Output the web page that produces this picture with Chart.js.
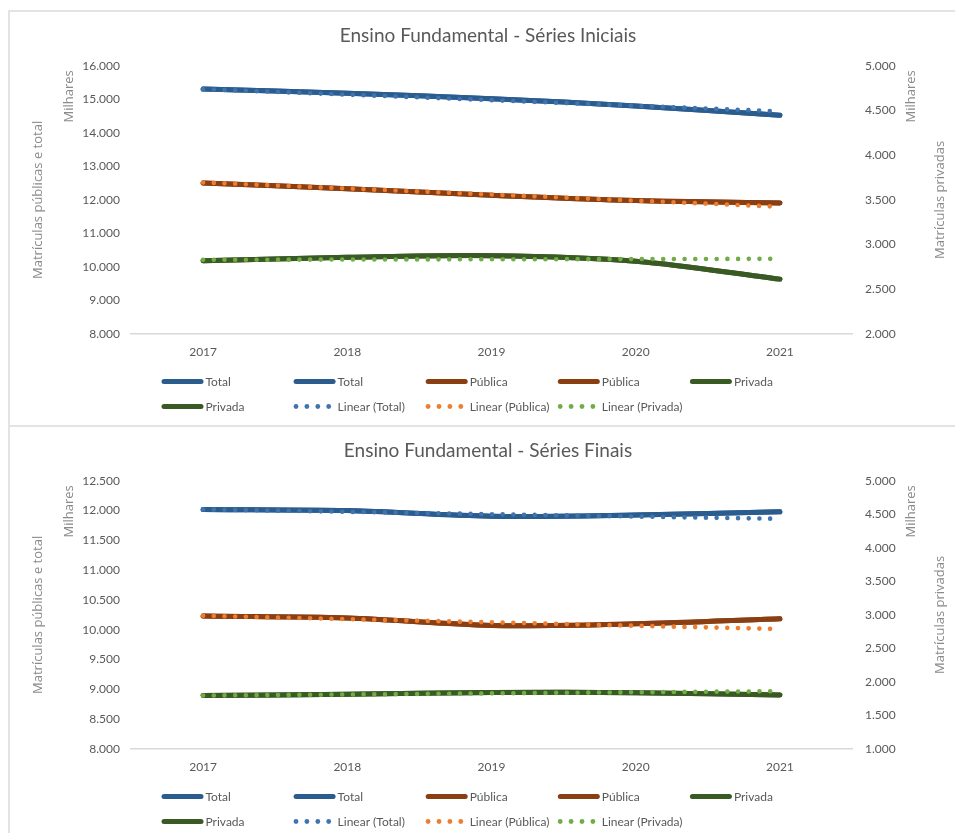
<!DOCTYPE html>
<html lang="pt-BR">
<head>
<meta charset="utf-8">
<title>Ensino Fundamental - Matrículas</title>
<script src="https://cdn.jsdelivr.net/npm/chart.js@4.4.1/dist/chart.umd.min.js"></script>
<style>
  html, body { margin: 0; padding: 0; background: #fff; overflow: hidden; width: 955px; height: 833px; }
  .quadro { position: absolute; left: 8px; width: 1000px; border-top: 2px solid #e3e3e3; border-left: 2px solid #e3e3e3; }
  #q1 { top: 10px; height: 413px; }
  #q2 { top: 425px; height: 406px; }
  canvas { position: absolute; left: 0; top: 0; }
</style>
</head>
<body>
<div class="quadro" id="q1"><canvas id="iniciais" width="956" height="413"></canvas></div>
<div class="quadro" id="q2"><canvas id="finais" width="956" height="406"></canvas></div>

<script>
// Matrículas em milhares
const anos = ['2017', '2018', '2019', '2020', '2021'];

// Séries Iniciais
const iniciaisTotal   = [15305, 15180, 15020, 14800, 14525];
const iniciaisPublica = [12506, 12330, 12140, 11980, 11910];
const iniciaisPrivada = [2819, 2858, 2876, 2815, 2614];
const iniciaisLinTotal   = [15305, 15140, 14975, 14808, 14640];
const iniciaisLinPublica = [12520, 12340, 12160, 11978, 11795];
const iniciaisLinPrivada = [2830, 2833, 2836, 2838, 2841];

// Séries Finais
const finaisTotal   = [12020, 12000, 11905, 11925, 11981];
const finaisPublica = [10230, 10197, 10074, 10100, 10186];
const finaisPrivada = [1797, 1815, 1842, 1840, 1807];
const finaisLinTotal   = [12020, 11980, 11940, 11900, 11862];
const finaisLinPublica = [10235, 10180, 10125, 10068, 10012];
const finaisLinPrivada = [1797, 1813, 1830, 1846, 1862];

const cores = {
  total: '#2b5c8e', publica: '#8a3f12', privada: '#3a5a24',
  linTotal: '#3f74b0', linPublica: '#ed7d31', linPrivada: '#70ad47'
};

function milhar(v) {
  return String(Math.round(v)).replace(/\B(?=(\d{3})+(?!\d))/g, '.');
}

function linha(label, data, cor, eixo) {
  return {
    label, data, yAxisID: eixo, borderColor: cor, backgroundColor: cor,
    borderWidth: 5, pointRadius: 0, pointHoverRadius: 0, tension: 0.33,
    borderCapStyle: 'round', borderJoinStyle: 'round', order: 2
  };
}

function tendencia(label, data, cor, eixo) {
  return {
    label, data, yAxisID: eixo, borderColor: cor, backgroundColor: cor,
    borderWidth: 4.6, pointRadius: 0, pointHoverRadius: 0, tension: 0,
    borderDash: [0, 10.7], borderCapStyle: 'round', order: 1
  };
}

// Rótulos rotacionados dos eixos e da unidade de exibição
const notasEixos = {
  id: 'notasEixos',
  afterDraw(chart, args, o) {
    const { ctx, chartArea: a } = chart;
    const meio = (a.top + a.bottom) / 2;
    const escreve = (txt, x, y, alinh) => {
      ctx.save();
      ctx.translate(x, y);
      ctx.rotate(-Math.PI / 2);
      ctx.textAlign = alinh;
      ctx.textBaseline = 'middle';
      ctx.fillText(txt, 0, 0);
      ctx.restore();
    };
    ctx.save();
    ctx.fillStyle = o.color;
    ctx.font = o.font;
    escreve(o.tituloEsq, o.xTituloEsq, meio, 'center');
    escreve(o.unidade, o.xUnidadeEsq, a.top + o.desvioUnidade, 'right');
    escreve(o.unidade, o.xUnidadeDir, a.top + o.desvioUnidade, 'right');
    escreve(o.tituloDir, o.xTituloDir, meio, 'center');
    ctx.restore();
  }
};

// Legenda em grade de colunas fixas
const legendaGrade = {
  id: 'legendaGrade',
  afterDraw(chart, args, o) {
    const { ctx, chartArea: a } = chart;
    ctx.save();
    ctx.font = o.font;
    ctx.textAlign = 'left';
    ctx.textBaseline = 'middle';
    chart.data.datasets.forEach((ds, i) => {
      const col = i % o.colunas, lin = Math.floor(i / o.colunas);
      const x = o.x + col * o.largura;
      const y = a.bottom + o.primeiraLinha + lin * o.entreLinhas;
      if (ds.borderDash && ds.borderDash.length) {
        ctx.fillStyle = ds.borderColor;
        for (let k = 0; k < 4; k++) {
          ctx.beginPath();
          ctx.arc(x + 2.4 + k * 10.9, y, 2.4, 0, Math.PI * 2);
          ctx.fill();
        }
      } else {
        ctx.strokeStyle = ds.borderColor;
        ctx.lineWidth = 5;
        ctx.lineCap = 'round';
        ctx.beginPath();
        ctx.moveTo(x + 2.5, y);
        ctx.lineTo(x + 39.5, y);
        ctx.stroke();
      }
      ctx.fillStyle = o.color;
      ctx.fillText(ds.label, x + 44, y + 0.5);
    });
    ctx.restore();
  }
};

Chart.defaults.font.family = 'Lato, "Open Sans", sans-serif';
Chart.defaults.font.size = 12;
Chart.defaults.color = '#595959';

function grafico(id, titulo, total, publica, privada, linTotal, linPublica, linPrivada, esq, dir, alturaLegenda) {
  return new Chart(document.getElementById(id), {
    type: 'line',
    data: {
      labels: anos,
      datasets: [
        linha('Total', total, cores.total, 'y'),
        linha('Total', total, cores.total, 'y'),
        linha('Pública', publica, cores.publica, 'y'),
        linha('Pública', publica, cores.publica, 'y'),
        linha('Privada', privada, cores.privada, 'y1'),
        linha('Privada', privada, cores.privada, 'y1'),
        tendencia('Linear (Total)', linTotal, cores.linTotal, 'y'),
        tendencia('Linear (Pública)', linPublica, cores.linPublica, 'y'),
        tendencia('Linear (Privada)', linPrivada, cores.linPrivada, 'y1')
      ]
    },
    options: {
      responsive: false,
      animation: false,
      devicePixelRatio: 1,
      events: [],
      layout: { padding: { left: 0, right: 0, top: 0, bottom: alturaLegenda } },
      plugins: {
        legend: { display: false },
        tooltip: { enabled: false },
        title: {
          display: true,
          text: titulo,
          color: '#595959',
          font: { family: 'Lato', size: 19, weight: 'normal' },
          padding: { top: 12, bottom: 19 }
        },
        notasEixos: {
          color: '#8a8a8a',
          font: '13px "Open Sans"',
          tituloEsq: 'Matrículas públicas e total',
          tituloDir: 'Matrículas privadas',
          unidade: 'Milhares',
          xTituloEsq: 28, xUnidadeEsq: 59.5, xUnidadeDir: 901, xTituloDir: 930,
          desvioUnidade: 4.5
        },
        legendaGrade: {
          font: '12px Lato',
          color: '#595959',
          colunas: 5, x: 151.5, largura: 132.1,
          primeiraLinha: 47.5, entreLinhas: 25
        }
      },
      scales: {
        x: {
          offset: true,
          grid: { display: false, drawTicks: false },
          border: { display: true, color: '#d9d9d9', width: 1.5 },
          ticks: { padding: 11, color: '#595959', font: { size: 12 }, maxRotation: 0 },
          afterFit: s => { s.height = 30; }
        },
        y: {
          position: 'left',
          min: esq.min, max: esq.max,
          grid: { display: false, drawTicks: false },
          border: { display: false },
          ticks: { stepSize: esq.passo, padding: 11, color: '#595959', callback: v => milhar(v) },
          afterFit: s => { s.width = 121; }
        },
        y1: {
          position: 'right',
          min: dir.min, max: dir.max,
          grid: { display: false, drawTicks: false },
          border: { display: false },
          ticks: { stepSize: dir.passo, padding: 13, color: '#595959', callback: v => milhar(v) },
          afterFit: s => { s.width = 114; }
        }
      }
    },
    plugins: [notasEixos, legendaGrade]
  });
}

grafico('iniciais', 'Ensino Fundamental - Séries Iniciais',
  iniciaisTotal, iniciaisPublica, iniciaisPrivada,
  iniciaisLinTotal, iniciaisLinPublica, iniciaisLinPrivada,
  { min: 8000, max: 16000, passo: 1000 }, { min: 2000, max: 5000, passo: 500 }, 61);

grafico('finais', 'Ensino Fundamental - Séries Finais',
  finaisTotal, finaisPublica, finaisPrivada,
  finaisLinTotal, finaisLinPublica, finaisLinPrivada,
  { min: 8000, max: 12500, passo: 500 }, { min: 1000, max: 5000, passo: 500 }, 54);
</script>
</body>
</html>
